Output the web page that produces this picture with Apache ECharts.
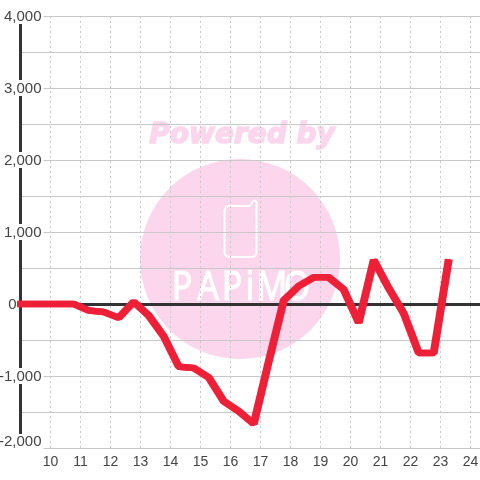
<!DOCTYPE html>
<html>
<head>
<meta charset="utf-8">
<style>html,body{margin:0;padding:0;background:#fff}#chart{width:480px;height:480px}</style>
<script src="https://cdn.jsdelivr.net/npm/echarts@6/dist/echarts.min.js"></script>
</head>
<body>
<div id="chart"></div>
<script>
const hours = [8.88, 9.25, 9.75, 10.25, 10.75, 11.25, 11.75, 12.25, 12.75, 13.25, 13.75, 14.25, 14.75, 15.25, 15.75, 16.25, 16.75, 17.25, 17.75, 18.25, 18.75, 19.25, 19.75, 20.25, 20.75, 21.25, 21.75, 22.25, 22.75, 23.25];
const values = [0, 0, 0, 0, 0, -90, -110, -190, 30, -160, -450, -870, -890, -1020, -1350, -1490, -1665, -800, 50, 250, 370, 370, 200, -260, 610, 220, -130, -680, -680, 620];
const xTicks = [10, 11, 12, 13, 14, 15, 16, 17, 18, 19, 20, 21, 22, 23, 24];
const yLabelValues = [4000, 3000, 2000, 1000, 0, -1000, -2000];
const logoLetters = ['P', 'A', 'P', 'i', 'M', 'O'];
const logoCenters = [182, 208, 232, 250, 272, 297];
const phoneOutline = [[229, 206], [249, 206], [251, 205], [252, 203], [253, 201], [255, 200.5], [256.5, 202], [256.5, 253], [255, 256], [252, 257], [229, 257], [226, 256], [224.5, 253], [224.5, 210], [226, 207]];

const myChart = echarts.init(document.getElementById('chart'));
const pink = '#fbd6ec';
const red = '#ee2038';
const option = {
    animation: false,
    textStyle: {fontFamily: 'Liberation Sans'},
    grid: {left: 20.5, right: 0, top: 16, bottom: 32, outerBoundsMode: 'none'},
    xAxis: [
        {
            type: 'value',
            min: 9,
            max: 24.317,
            interval: 1,
            axisLine: {show: false, onZero: false},
            axisTick: {show: false},
            axisLabel: {
                color: '#444',
                fontSize: 14,
                margin: 7,
                showMinLabel: false,
                showMaxLabel: false,
                formatter: (v) => xTicks.includes(v) ? String(v) : '',
            },
            splitLine: {
                show: true,
                showMinLine: false,
                showMaxLine: false,
                lineStyle: {color: '#c8c8c8', type: [2, 3], width: 1},
            },
        },
        {
            type: 'value',
            position: 'bottom',
            min: 9,
            max: 24.317,
            interval: 1,
            axisLine: {show: true, onZero: true, lineStyle: {color: '#333', width: 3}},
            axisTick: {show: false},
            axisLabel: {show: false},
            splitLine: {show: false},
        },
    ],
    yAxis: {
        type: 'value',
        min: -2000,
        max: 4000,
        interval: 500,
        axisLine: {show: true, onZero: false, lineStyle: {color: '#333', width: 3}},
        axisTick: {show: false},
        axisLabel: {
            inside: true,
            align: 'right',
            margin: 23,
            showMinLabel: true,
            showMaxLabel: true,
            formatter: (v) => {
                if (v === 0) return '{zero|0}';
                if (v === -2000) return '{low|-2,000}';
                return yLabelValues.includes(v) ? '{num|' + v.toLocaleString('en-US') + '}' : '';
            },
            rich: {
                num: {color: '#444', fontSize: 15, backgroundColor: '#fff', padding: [1, 2, 0, 0]},
                low: {color: '#444', fontSize: 15, backgroundColor: '#fff', padding: [0, 2, 13, 0]},
                zero: {color: '#444', fontSize: 15, padding: [1, 27, 0, 0]},
            },
        },
        splitLine: {show: true, lineStyle: {color: '#c8c8c8', width: 1}},
    },
    graphic: [
        {type: 'circle', z: -1, shape: {cx: 240, cy: 259, r: 100}, style: {fill: pink}},
        {type: 'text', z: -1, x: 242, y: 136, style: {text: 'Powered by', fill: pink, stroke: pink, lineWidth: 1.5, font: 'italic bold 28px "DejaVu Sans"', align: 'center', verticalAlign: 'middle'}},
        {type: 'polygon', z: -1, shape: {points: phoneOutline}, style: {fill: 'none', stroke: '#fff', lineWidth: 2}},
    ].concat(logoLetters.map((c, i) => ({
        type: 'text',
        z: -1,
        x: logoCenters[i],
        y: 289,
        scaleX: 0.85,
        style: {text: c, fill: '#fff', stroke: '#fff', lineWidth: 1, font: '40px "Noto Sans"', align: 'center', verticalAlign: 'middle'},
    }))),
    series: [
        {
            type: 'line',
            data: hours.map((h, i) => [h, values[i]]),
            symbol: 'none',
            clip: false,
            z: 5,
            lineStyle: {color: red, width: 6.5, join: 'bevel', cap: 'butt', shadowColor: red, shadowBlur: 0, shadowOffsetX: 1.5},
        },
    ],
};
myChart.setOption(option);
</script>
</body>
</html>
